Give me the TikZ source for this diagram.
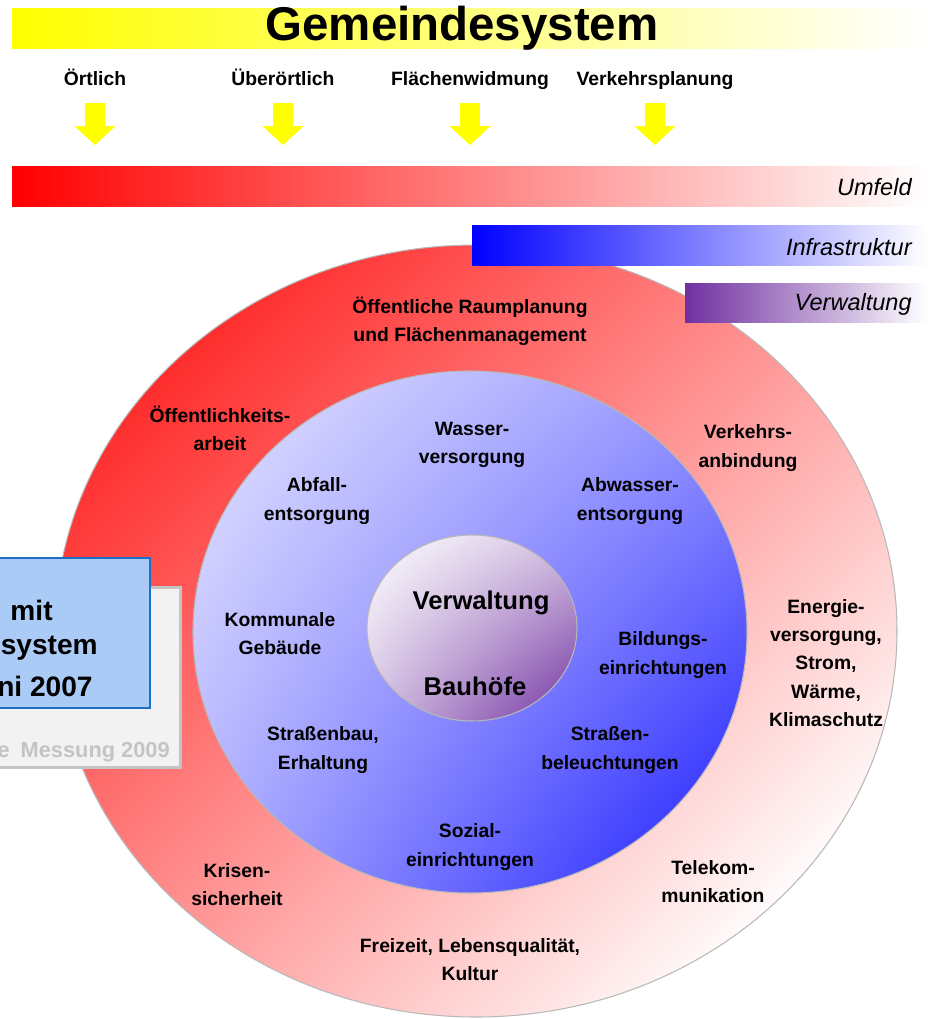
\documentclass[tikz,border=0pt]{standalone}
\usepackage{fontspec}
\setmainfont{Liberation Sans}
\usetikzlibrary{arrows.meta,shadings}

\definecolor{barred}{HTML}{FF0000}
\definecolor{barblue}{HTML}{0000FF}
\definecolor{barpurple}{HTML}{7030A0}
\definecolor{baryellow}{HTML}{FFFF00}
\definecolor{boxblue}{HTML}{AACBF6}
\definecolor{boxframe}{HTML}{1E6FC2}
\definecolor{shadowgray}{HTML}{F2F2F2}
\definecolor{shadowframe}{HTML}{C4C4C4}
\definecolor{edgegray}{HTML}{B8B8B8}

\tikzset{
  ringtxt/.style={font=\fontsize{11}{16}\selectfont\bfseries, align=center, inner sep=0pt},
  coretxt/.style={font=\fontsize{14.6}{17}\selectfont\bfseries, inner sep=0pt},
  bartxt/.style={font=\fontsize{13.4}{16}\selectfont\itshape, anchor=east, inner sep=0pt},
  scaletxt/.style={font=\fontsize{11}{13}\selectfont\bfseries, inner sep=0pt, anchor=base},
  boxtxt/.style={font=\fontsize{16}{19}\selectfont\bfseries, anchor=east, inner sep=0pt},
  downarr/.style={line width=0.4cm, baryellow, -{Triangle[width=0.8cm,length=0.38cm]}},
}

\begin{document}
\begin{tikzpicture}[x=0.02cm,y=-0.02cm]
\useasboundingbox (0,0) rectangle (928,1019);
\clip (0,0) rectangle (928,1019);

% title bar
\shade[left color=baryellow, right color=white] (12,8) rectangle (928,48);
\node[font=\fontsize{27}{30}\selectfont\bfseries, inner sep=0pt] (title) at (462,28) {Gemeindesystem};

% scales
\node[scaletxt] (ort) at (95,85) {Örtlich};
\node[scaletxt] (ueber) at (283,85) {Überörtlich};
\node[scaletxt] (flaeche) at (470,85) {Flächenwidmung};
\node[scaletxt] (verkehr) at (655,85) {Verkehrsplanung};

\coordinate (s1) at (95,103);
\coordinate (s2) at (283,103);
\coordinate (s3) at (470,103);
\coordinate (s4) at (655,103);
\coordinate (t1) at (95,145);
\coordinate (t2) at (283,145);
\coordinate (t3) at (470,145);
\coordinate (t4) at (655,145);
\draw[downarr] (s1) -- (t1);
\draw[downarr] (s2) -- (t2);
\draw[downarr] (s3) -- (t3);
\draw[downarr] (s4) -- (t4);

% Umfeld bar
\shade[left color=barred, right color=white] (12,166) rectangle (928,206);
\node[bartxt] (umfeld) at (912,187) {Umfeld};

% rings
\shadedraw[draw=edgegray, line width=0.6pt,
  top color=red!82, bottom color=red!2, shading angle=45]
  (476,631) ellipse [x radius=421, y radius=386];
\shadedraw[draw=edgegray, line width=0.6pt,
  upper left=blue!10, upper right=blue!42, lower left=blue!32, lower right=blue!90]
  (470,632) ellipse [x radius=277, y radius=261];
\shadedraw[draw=edgegray, line width=0.6pt,
  upper left=white, upper right=barpurple!30, lower left=barpurple!30, lower right=barpurple]
  (472,628) ellipse [x radius=105, y radius=93];

% Infrastruktur and Verwaltung bars
\shade[left color=barblue, right color=white] (472,225) rectangle (928,265);
\node[bartxt] (infra) at (912,247) {Infrastruktur};
\shade[left color=barpurple, right color=white] (685,283) rectangle (928,322);
\node[bartxt] (verw) at (912,304) {Verwaltung};

% outer ring
\node[ringtxt] (raum) at (470,321) {Öffentliche Raumplanung\\und Flächenmanagement};
\node[ringtxt] (oeff) at (220,428) {Öffentlichkeits-\\arbeit};
\node[ringtxt] (anbind) at (748,448) {Verkehrs-\\anbindung};
\node[ringtxt] (energie) at (826,663) {Energie-\\versorgung,\\Strom,\\Wärme,\\Klimaschutz};
\node[ringtxt] (tele) at (713,882) {Telekom-\\munikation};
\node[ringtxt] (freizeit) at (470,960) {Freizeit, Lebensqualität,\\Kultur};
\node[ringtxt] (krise) at (237,885) {Krisen-\\sicherheit};

% inner ring
\node[ringtxt] (wasser) at (472,445) {Wasser-\\versorgung};
\node[ringtxt] (abfall) at (317,501) {Abfall-\\entsorgung};
\node[ringtxt] (abwasser) at (630,501) {Abwasser-\\entsorgung};
\node[ringtxt] (gebaeude) at (280,634) {Kommunale\\Gebäude};
\node[ringtxt] (bildung) at (663,655) {Bildungs-\\einrichtungen};
\node[ringtxt] (strbau) at (323,750) {Straßenbau,\\Erhaltung};
\node[ringtxt] (strlicht) at (610,750) {Straßen-\\beleuchtungen};
\node[ringtxt] (sozial) at (470,847) {Sozial-\\einrichtungen};

% core
\node[coretxt] (verwaltung) at (481,603) {Verwaltung};
\node[coretxt] (bauhof) at (475,686) {Bauhöfe};

% boxes on the left
\draw[fill=shadowgray, draw=shadowframe, line width=0.06cm] (-150,587) rectangle (180,767);
\node[font=\fontsize{12.4}{14}\selectfont\bfseries, inner sep=0pt, anchor=east, text=shadowframe] (messung) at (170,752) {ze\enspace Messung 2009};
\draw[fill=boxblue, draw=boxframe, line width=0.035cm] (-150,558) rectangle (150,708);
\node[boxtxt] (mit) at (53,610) {mit};
\node[boxtxt] (system) at (98,648) {system};
\node[boxtxt] (jahr) at (93,686) {ni 2007};
\end{tikzpicture}
\end{document}
